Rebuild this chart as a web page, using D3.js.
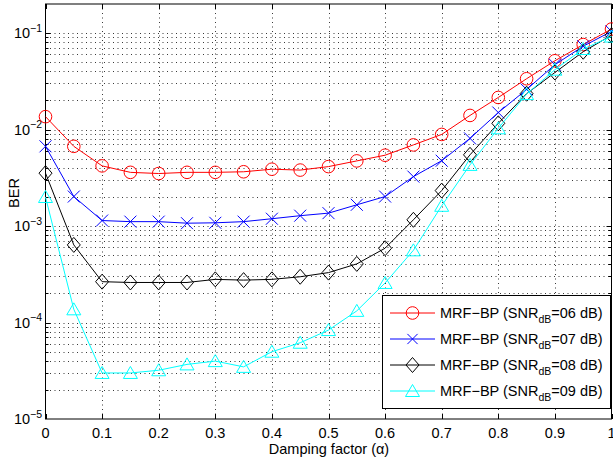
<!DOCTYPE html>
<html>
<head>
<meta charset="utf-8">
<script src="https://cdn.jsdelivr.net/npm/d3@7"></script>
<style>
  body { margin: 0; background: #fff; }
  text { font-family: "Liberation Sans", Arial, sans-serif; }
</style>
</head>
<body>
<svg id="chart" width="613" height="461"></svg>
<script>
// damping factor values on the x axis
const alpha = [0, 0.05, 0.1, 0.15, 0.2, 0.25, 0.3, 0.35, 0.4, 0.45, 0.5,
  0.55, 0.6, 0.65, 0.7, 0.75, 0.8, 0.85, 0.9, 0.95, 1];

// BER curves
const ber06 = [1.36e-2, 6.7e-3, 4.2e-3, 3.6e-3, 3.5e-3, 3.6e-3, 3.6e-3, 3.65e-3, 3.88e-3, 3.8e-3, 4.13e-3,
  4.73e-3, 5.42e-3, 6.93e-3, 8.9e-3, 1.4e-2, 2.15e-2, 3.36e-2, 5.16e-2, 7.6e-2, 0.11];
const ber07 = [6.7e-3, 2.02e-3, 1.14e-3, 1.11e-3, 1.11e-3, 1.07e-3, 1.08e-3, 1.11e-3, 1.19e-3, 1.28e-3, 1.36e-3,
  1.66e-3, 2.02e-3, 3.25e-3, 4.75e-3, 8.1e-3, 1.5e-2, 2.6e-2, 4.7e-2, 7.3e-2, 0.104];
const ber08 = [3.53e-3, 6.37e-4, 2.65e-4, 2.6e-4, 2.6e-4, 2.6e-4, 2.8e-4, 2.75e-4, 2.8e-4, 2.98e-4, 3.29e-4,
  4.05e-4, 5.89e-4, 1.16e-3, 2.33e-3, 5.47e-3, 1.16e-2, 2.35e-2, 3.9e-2, 6.4e-2, 0.095];
const ber09 = [2.0e-3, 1.37e-4, 3.0e-5, 3.0e-5, 3.2e-5, 3.68e-5, 3.98e-5, 3.47e-5, 4.98e-5, 6.17e-5, 8.35e-5,
  1.32e-4, 2.57e-4, 5.6e-4, 1.62e-3, 4.3e-3, 1.03e-2, 2.33e-2, 4.17e-2, 6.83e-2, 0.092];

const snrLabels = ["06", "07", "08", "09"];
const xTicks = [0, 0.1, 0.2, 0.3, 0.4, 0.5, 0.6, 0.7, 0.8, 0.9, 1];
const yExponents = [-5, -4, -3, -2, -1];

const series = [
  { values: ber06, color: "#ff0000", marker: "circle", snr: snrLabels[0] },
  { values: ber07, color: "#0000ff", marker: "cross", snr: snrLabels[1] },
  { values: ber08, color: "#000000", marker: "diamond", snr: snrLabels[2] },
  { values: ber09, color: "#00ffff", marker: "triangle", snr: snrLabels[3] }
];

const pLeft = 45.5, pRight = 611.5, pTop = 4, pBottom = 419;
const fs = 14.5;

const x = d3.scaleLinear().domain([0, 1]).range([pLeft, pRight]);
const y = d3.scaleLog().domain([1e-5, 0.2]).range([pBottom, pTop]);

const svg = d3.select("#chart");
const chart = svg.append("g");

// grid: vertical dotted at major x, horizontal dotted at every log tick
const minorY = [];
for (let e = -5; e <= -1; e++) {
  for (let m = 1; m <= 9; m++) {
    const v = m * Math.pow(10, e);
    if (v > 1e-5 && v < 0.2) minorY.push(v);
  }
}

chart.append("g")
  .attr("class", "grid")
  .selectAll("line")
  .data(xTicks.slice(1, -1))
  .join("line")
  .attr("x1", (d) => Math.round(x(d)) + 0.5).attr("x2", (d) => Math.round(x(d)) + 0.5)
  .attr("y1", pTop).attr("y2", pBottom)
  .attr("stroke", "#222")
  .attr("stroke-width", 0.9)
  .attr("stroke-dasharray", "1,3.5");

chart.append("g")
  .attr("class", "grid")
  .selectAll("line")
  .data(minorY)
  .join("line")
  .attr("x1", pLeft).attr("x2", pRight)
  .attr("y1", (d) => Math.round(y(d)) + 0.5).attr("y2", (d) => Math.round(y(d)) + 0.5)
  .attr("stroke", "#222")
  .attr("stroke-width", 0.9)
  .attr("stroke-dasharray", "1,3.5");

// axes box
chart.append("rect")
  .attr("x", pLeft).attr("y", pTop)
  .attr("width", pRight - pLeft).attr("height", pBottom - pTop)
  .attr("fill", "none")
  .attr("stroke", "#000")
  .attr("stroke-width", 1);

// inward ticks
const tickG = chart.append("g").attr("stroke", "#000").attr("stroke-width", 1);
xTicks.forEach((t) => {
  const px = Math.round(x(t)) + 0.5;
  tickG.append("line").attr("x1", px).attr("x2", px).attr("y1", pBottom).attr("y2", pBottom - 5);
  tickG.append("line").attr("x1", px).attr("x2", px).attr("y1", pTop).attr("y2", pTop + 5);
});
minorY.forEach((v) => {
  const major = Math.abs(Math.log10(v) - Math.round(Math.log10(v))) < 1e-9;
  const len = major ? 5 : 3;
  const py = Math.round(y(v)) + 0.5;
  tickG.append("line").attr("x1", pLeft).attr("x2", pLeft + len).attr("y1", py).attr("y2", py);
  tickG.append("line").attr("x1", pRight).attr("x2", pRight - len).attr("y1", py).attr("y2", py);
});

// tick labels
chart.append("g")
  .selectAll("text")
  .data(xTicks)
  .join("text")
  .attr("x", (d) => x(d))
  .attr("y", 437.5)
  .attr("text-anchor", "middle")
  .attr("font-size", fs)
  .text((d) => d3.format("~g")(d));

const yLab = chart.append("g")
  .selectAll("text")
  .data(yExponents)
  .join("text")
  .attr("x", 42)
  .attr("y", (d) => y(Math.pow(10, d)) + 5)
  .attr("text-anchor", "end")
  .attr("font-size", fs);
yLab.append("tspan").text("10");
yLab.append("tspan").attr("dy", -6.5).attr("font-size", 10.5).text((d) => "\u2212" + Math.abs(d));

// axis titles
chart.append("text")
  .attr("x", 329).attr("y", 454)
  .attr("text-anchor", "middle")
  .attr("font-size", fs)
  .text("Damping factor (\u03b1)");

chart.append("text")
  .attr("transform", "translate(18.5,193) rotate(-90)")
  .attr("text-anchor", "middle")
  .attr("font-size", fs)
  .text("BER");

// markers
function drawMarker(g, type, color, k = 1) {
  if (type === "circle") {
    g.append("circle").attr("r", 6.3 * k).attr("fill", "none").attr("stroke", color).attr("stroke-width", 1);
  } else if (type === "cross") {
    const c = 6 * k;
    g.append("path").attr("d", `M${-c},${-c}L${c},${c}M${-c},${c}L${c},${-c}`)
      .attr("fill", "none").attr("stroke", color).attr("stroke-width", 1);
  } else if (type === "diamond") {
    g.append("path").attr("d", `M0,${-7.5 * k}L${6.5 * k},0L0,${7.5 * k}L${-6.5 * k},0Z`)
      .attr("fill", "none").attr("stroke", color).attr("stroke-width", 1);
  } else {
    g.append("path").attr("d", `M0,${-6.5 * k}L${7 * k},${5.5 * k}L${-7 * k},${5.5 * k}Z`)
      .attr("fill", "none").attr("stroke", color).attr("stroke-width", 1);
  }
}

const line = d3.line().x((d) => x(d[0])).y((d) => y(d[1]));

series.forEach((s) => {
  const pts = alpha.map((a, i) => [a, s.values[i]]);
  chart.append("path")
    .datum(pts)
    .attr("d", line)
    .attr("fill", "none")
    .attr("stroke", s.color)
    .attr("stroke-width", 1);
  chart.append("g")
    .selectAll("g")
    .data(pts)
    .join("g")
    .attr("transform", (d) => `translate(${x(d[0])},${y(d[1])})`)
    .each(function () { drawMarker(d3.select(this), s.marker, s.color); });
});

// legend
const legend = chart.append("g");
legend.append("rect")
  .attr("x", 382.5).attr("y", 295.5)
  .attr("width", 228).attr("height", 113)
  .attr("fill", "#fff")
  .attr("stroke", "#000")
  .attr("stroke-width", 1);

const rows = legend.selectAll("g.row")
  .data(series)
  .join("g")
  .attr("class", "row")
  .attr("transform", (d, i) => `translate(0,${313 + i * 26})`);

rows.append("line")
  .attr("x1", 390).attr("x2", 435)
  .attr("stroke", (d) => d.color)
  .attr("stroke-width", 1);
rows.append("g")
  .attr("transform", "translate(412.5,0)")
  .each(function (d) { drawMarker(d3.select(this), d.marker, d.color, d.marker === "cross" ? 0.85 : 1); });

const lt = rows.append("text")
  .attr("x", 440)
  .attr("y", 5)
  .attr("font-size", fs);
lt.append("tspan").text("MRF\u2212BP (SNR");
lt.append("tspan").attr("dy", 4.5).attr("font-size", 10.5).text("dB");
lt.append("tspan").attr("dy", -4.5).text((d) => "=" + d.snr + " dB)");
</script>
</body>
</html>
